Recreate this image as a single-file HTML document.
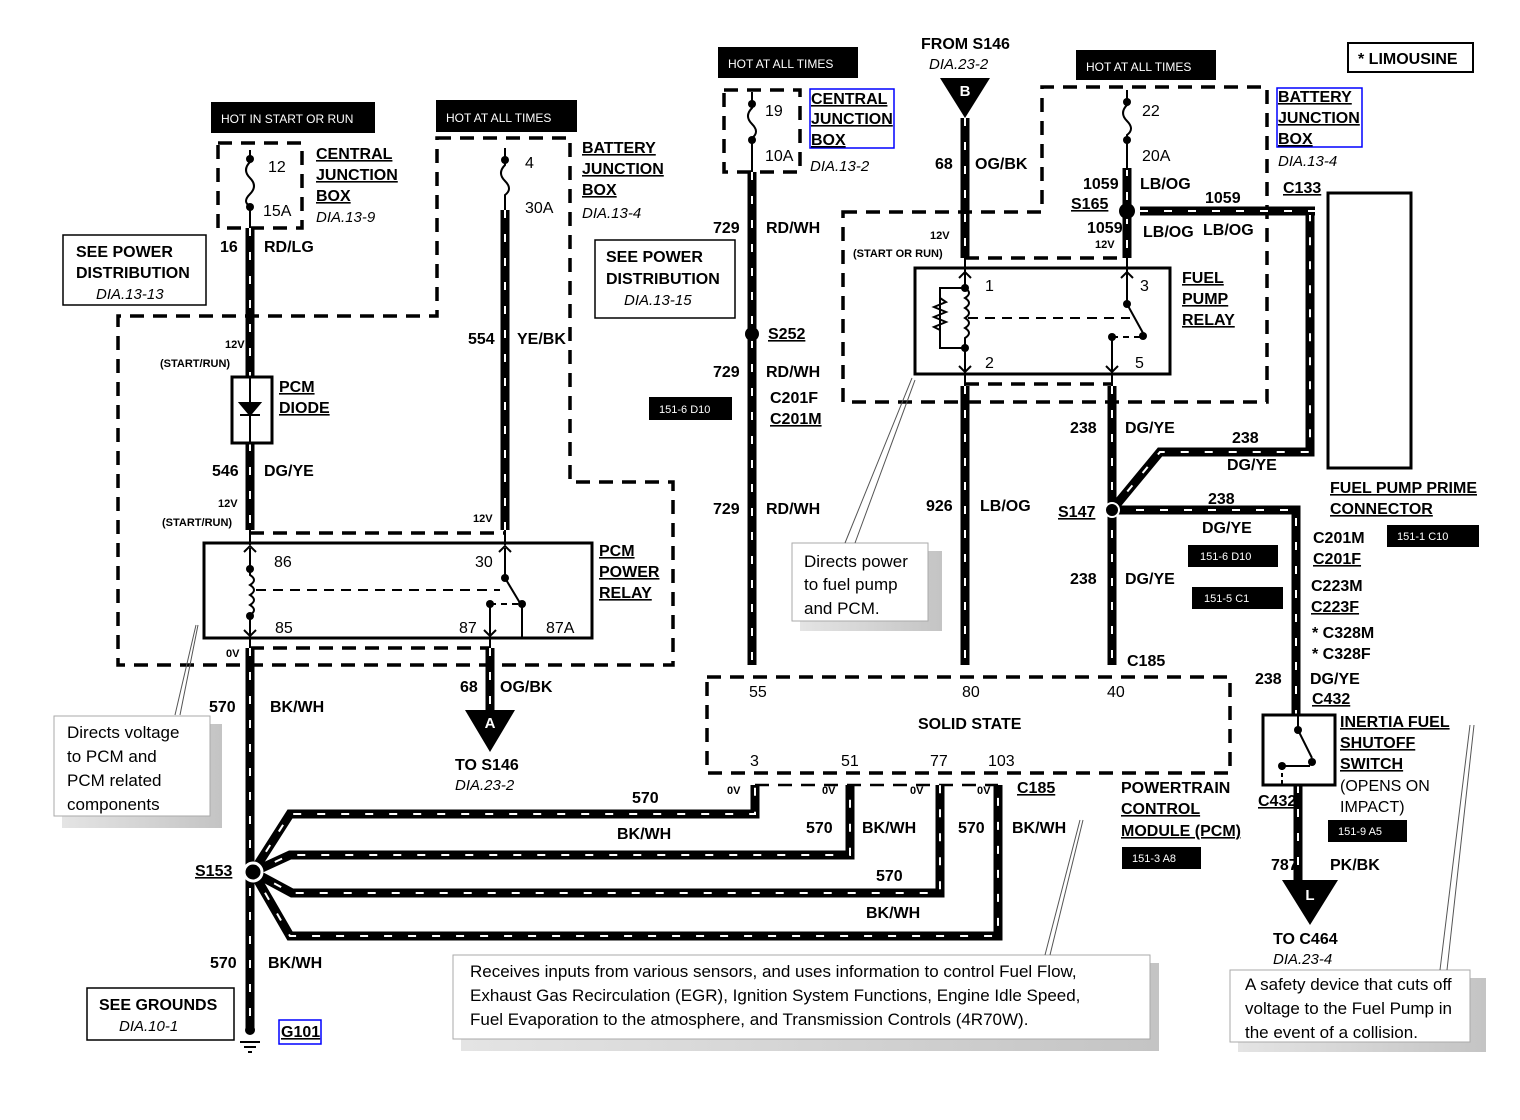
<!DOCTYPE html>
<html><head><meta charset="utf-8"><style>
html,body{margin:0;padding:0;background:#fff}
svg{display:block}
text{font-family:"Liberation Sans",Arial,sans-serif;fill:#000}
.b{font-weight:bold;font-size:16px}
.s{font-weight:bold;font-size:11px}
.i{font-style:italic;font-size:15px}
.u{text-decoration:underline}
.n{font-size:17px}
.tag{fill:#fff;font-size:11px}
.wk{fill:none;stroke:#000;stroke-width:9}
.ww{fill:none;stroke:#fff;stroke-width:2;stroke-dasharray:8 16}
.d{fill:none;stroke:#000;stroke-width:3.5;stroke-dasharray:14 9}
.t{fill:none;stroke:#000;stroke-width:2}
.box{fill:#fff;stroke:#000;stroke-width:1.5}
</style></head><body>
<svg width="1520" height="1120" viewBox="0 0 1520 1120" xmlns="http://www.w3.org/2000/svg">
<defs>
<path id="w1" d="M250 228 V377 M250 443 V530 M250 648 V1030"/>
<path id="w2" d="M505 210 V530"/>
<path id="w3" d="M490 648 V712"/>
<path id="w4" d="M752 172 V665"/>
<path id="w5" d="M965 118 V258"/>
<path id="w6" d="M965 386 V665"/>
<path id="w7" d="M1127 168 V258"/>
<path id="w8" d="M1140 211 H1315"/>
<path id="w9" d="M1112 386 V665"/>
<path id="w10" d="M1112 510 L1160 452 H1310 V215"/>
<path id="w11" d="M1112 510 H1296 V715"/>
<path id="w12" d="M1298 785 V882"/>
<path id="w13" d="M253 872 L290 814 H755 V785"/>
<path id="w14" d="M253 872 L290 855 H850 V785"/>
<path id="w15" d="M253 872 L292 893 H940 V785"/>
<path id="w16" d="M253 872 L290 936 H998 V785"/>
<linearGradient id="sh" x1="0" x2="1"><stop offset="0" stop-color="#e4e4e4"/><stop offset="1" stop-color="#c4c4c4"/></linearGradient>
</defs>

<path class="d" d="M437 138 H570 V482 H673 V665 H118 V316 H437 Z"/>
<rect class="d" x="218" y="143" width="84" height="85"/>
<rect class="d" x="724" y="90" width="76" height="82"/>
<path class="d" d="M843 212 H1042 V87 H1267 V402 H843 Z"/>
<rect class="d" x="707" y="677" width="523" height="96"/>
<path class="d" d="M250 533 H505"/>
<path class="d" d="M250 648 H490"/>
<path class="d" d="M965 258 H1127"/>
<path class="d" d="M965 384 H1112"/>
<path class="d" d="M755 785 H998" style="stroke-width:2.5"/>

<g class="wk"><use href="#w1"/><use href="#w2"/><use href="#w3"/><use href="#w4"/><use href="#w5"/><use href="#w6"/><use href="#w7"/><use href="#w8"/><use href="#w9"/><use href="#w10"/><use href="#w11"/><use href="#w12"/><use href="#w13"/><use href="#w14"/><use href="#w15"/><use href="#w16"/></g>
<g class="ww"><use href="#w1"/><use href="#w2"/><use href="#w3"/><use href="#w4"/><use href="#w5"/><use href="#w6"/><use href="#w7"/><use href="#w8"/><use href="#w9"/><use href="#w10"/><use href="#w11"/><use href="#w12"/><use href="#w13"/><use href="#w14"/><use href="#w15"/><use href="#w16"/></g>

<g class="t">
<path d="M250 150 V162 q-8 8 0 16 q8 8 0 16 q-8 8 0 12 V228"/>
<path d="M505 148 V165 q-8 8 0 16 q8 8 0 14 V210"/>
<path d="M752 92 V108 q-8 8 0 16 q8 8 0 14 V172"/>
<path d="M1127 90 V105 q-8 8 0 16 q8 8 0 14 V170"/>
<path d="M965 258 V270 M1127 258 V270 M965 374 V386 M1112 374 V386 M250 530 V545 M505 530 V545 M250 636 V648 M490 636 V648"/>
</g>
<g fill="#000"><circle cx="250" cy="159" r="4"/><circle cx="250" cy="207" r="4"/><circle cx="505" cy="160" r="4"/><circle cx="752" cy="104" r="4"/><circle cx="752" cy="140" r="4"/><circle cx="1127" cy="102" r="4"/><circle cx="1127" cy="140" r="4"/>
<circle cx="752" cy="334" r="7"/><circle cx="1127" cy="211" r="8"/><circle cx="1112" cy="510" r="7" stroke="#fff" stroke-width="2"/><circle cx="253" cy="872" r="9" stroke="#fff" stroke-width="3"/></g>

<rect x="232" y="377" width="40" height="66" fill="#fff" stroke="#000" stroke-width="3"/>
<path d="M250 377 V443 M240 403 H260 L250 415 Z M240 415 H260" stroke="#000" stroke-width="2" fill="#000"/>

<rect x="204" y="543" width="388" height="95" fill="none" stroke="#000" stroke-width="3"/>
<g class="t"><path d="M250 548 V575 q8 5 0 10 q8 5 0 10 q8 5 0 10 q8 5 0 10 V636"/><path d="M256 590 H500" stroke-dasharray="10 7"/><path d="M505 548 V578 L520 603"/><path d="M490 604 H519" stroke-dasharray="6 5"/><path d="M490 604 V636"/><path d="M522 604 V638"/><path d="M244 552 L250 546 L256 552 M244 630 L250 636 L256 630 M499 552 L505 546 L511 552 M484 630 L490 636 L496 630"/></g>
<g fill="#000"><circle cx="250" cy="569" r="4"/><circle cx="250" cy="616" r="4"/><circle cx="505" cy="578" r="4"/><circle cx="522" cy="604" r="4"/><circle cx="490" cy="604" r="4"/></g>

<rect x="915" y="268" width="255" height="106" fill="none" stroke="#000" stroke-width="3"/>
<g class="t"><path d="M965 270 V288 q8 5 0 10 q8 5 0 10 q8 5 0 10 q8 5 0 10 q8 5 0 10 V372"/><path d="M965 288 H940 V348 H965"/><path d="M940 298 l6 4 l-12 5 l12 5 l-12 5 l12 5 l-12 5 l6 3"/><path d="M968 318 H1130" stroke-dasharray="10 7"/><path d="M1127 270 V304 L1143 333"/><path d="M1112 337 H1140" stroke-dasharray="6 5"/><path d="M1112 337 V372"/><path d="M959 278 L965 272 L971 278 M1121 278 L1127 272 L1133 278 M959 366 L965 372 L971 366 M1106 366 L1112 372 L1118 366"/></g>
<g fill="#000"><circle cx="965" cy="288" r="4"/><circle cx="965" cy="348" r="4"/><circle cx="1127" cy="304" r="4"/><circle cx="1143" cy="336" r="4"/><circle cx="1112" cy="337" r="4"/></g>

<rect x="1263" y="715" width="72" height="70" fill="none" stroke="#000" stroke-width="3"/>
<g class="t"><path d="M1298 715 V730 L1312 758 M1282 766 H1310" /><path d="M1282 766 V785" stroke-dasharray="4 3"/></g>
<g fill="#000"><circle cx="1298" cy="730" r="4"/><circle cx="1312" cy="762" r="4"/><circle cx="1282" cy="766" r="4"/></g>

<rect x="1328" y="193" width="83" height="275" fill="none" stroke="#000" stroke-width="3"/>

<path d="M465 710 H515 L490 752 Z M940 78 H990 L965 118 Z M1282 880 H1338 L1310 925 Z"/>
<text x="490" y="728" text-anchor="middle" style="fill:#fff;font-weight:bold;font-size:15px">A</text>
<text x="965" y="96" text-anchor="middle" style="fill:#fff;font-weight:bold;font-size:15px">B</text>
<text x="1310" y="900" text-anchor="middle" style="fill:#fff;font-weight:bold;font-size:15px">L</text>

<path d="M240 1042 H260 M244 1047 H256 M248 1052 H252" stroke="#000" stroke-width="2"/>
<circle cx="250" cy="1030" r="5"/>

<rect x="211" y="102" width="164" height="31"/><text x="221" y="123" class="tag" style="font-size:12px">HOT IN START OR RUN</text>
<rect x="436" y="100" width="141" height="32"/><text x="446" y="122" class="tag" style="font-size:12px">HOT AT ALL TIMES</text>
<rect x="718" y="47" width="140" height="31"/><text x="728" y="68" class="tag" style="font-size:12px">HOT AT ALL TIMES</text>
<rect x="1076" y="50" width="140" height="30"/><text x="1086" y="71" class="tag" style="font-size:12px">HOT AT ALL TIMES</text>
<rect x="649" y="397" width="83" height="23"/><text x="659" y="413" class="tag">151-6 D10</text>
<rect x="1188" y="545" width="90" height="22"/><text x="1200" y="560" class="tag">151-6 D10</text>
<rect x="1192" y="587" width="91" height="22"/><text x="1204" y="602" class="tag">151-5 C1</text>
<rect x="1387" y="525" width="92" height="22"/><text x="1397" y="540" class="tag">151-1 C10</text>
<rect x="1328" y="820" width="79" height="22"/><text x="1338" y="835" class="tag">151-9 A5</text>
<rect x="1122" y="847" width="79" height="22"/><text x="1132" y="862" class="tag">151-3 A8</text>

<rect class="box" x="63" y="235" width="143" height="70"/>
<text x="76" y="257" class="b">SEE POWER</text><text x="76" y="278" class="b">DISTRIBUTION</text><text x="96" y="299" class="i">DIA.13-13</text>
<rect class="box" x="595" y="240" width="140" height="78"/>
<text x="606" y="262" class="b">SEE POWER</text><text x="606" y="284" class="b">DISTRIBUTION</text><text x="624" y="305" class="i">DIA.13-15</text>
<rect class="box" x="87" y="988" width="147" height="52"/>
<text x="99" y="1010" class="b">SEE GROUNDS</text><text x="119" y="1031" class="i">DIA.10-1</text>
<rect class="box" x="1348" y="43" width="125" height="29" style="stroke-width:2"/><text x="1358" y="64" class="b">* LIMOUSINE</text>
<rect x="810" y="89" width="84" height="59" fill="none" stroke="#00f" stroke-width="1.5"/>
<rect x="1277" y="88" width="85" height="59" fill="none" stroke="#00f" stroke-width="1.5"/>
<rect x="279" y="1020" width="42" height="24" fill="none" stroke="#00f" stroke-width="1.5"/>

<g>
<rect x="62" y="724" width="160" height="104" fill="url(#sh)"/>
<rect x="54" y="716" width="156" height="100" fill="#fff" stroke="#aaa"/>
<path d="M175 715 L196 625 M180 715 L198 625" stroke="#555" stroke-width="1"/>
<text x="67" y="738" class="n">Directs voltage</text><text x="67" y="762" class="n">to PCM and</text><text x="67" y="786" class="n">PCM related</text><text x="67" y="810" class="n">components</text>
<rect x="800" y="551" width="142" height="80" fill="url(#sh)"/>
<rect x="792" y="543" width="136" height="78" fill="#fff" stroke="#aaa"/>
<path d="M845 543 L912 378 M855 543 L915 380" stroke="#555" stroke-width="1"/>
<text x="804" y="567" class="n">Directs power</text><text x="804" y="590" class="n">to fuel pump</text><text x="804" y="614" class="n">and PCM.</text>
<rect x="461" y="963" width="698" height="88" fill="url(#sh)"/>
<rect x="453" y="955" width="697" height="84" fill="#fff" stroke="#aaa"/>
<path d="M1045 955 L1080 820 M1050 955 L1083 820" stroke="#555" stroke-width="1"/>
<text x="470" y="977" class="n">Receives inputs from various sensors, and uses information to control Fuel Flow,</text>
<text x="470" y="1001" class="n">Exhaust Gas Recirculation (EGR), Ignition System Functions, Engine Idle Speed,</text>
<text x="470" y="1025" class="n">Fuel Evaporation to the atmosphere, and Transmission Controls (4R70W).</text>
<rect x="1238" y="978" width="248" height="74" fill="url(#sh)"/>
<rect x="1230" y="970" width="240" height="72" fill="#fff" stroke="#aaa"/>
<path d="M1440 970 L1470 725 M1447 970 L1474 725" stroke="#555" stroke-width="1"/>
<text x="1245" y="990" class="n">A safety device that cuts off</text><text x="1245" y="1014" class="n">voltage to the Fuel Pump in</text><text x="1245" y="1038" class="n">the event of a collision.</text>
</g>

<g class="b">
<text x="268" y="172" style="font-weight:normal">12</text><text x="263" y="216" style="font-weight:normal">15A</text>
<text x="316" y="159" class="u">CENTRAL</text><text x="316" y="180" class="u">JUNCTION</text><text x="316" y="201" class="u">BOX</text>
<text x="525" y="168" style="font-weight:normal">4</text><text x="525" y="213" style="font-weight:normal">30A</text>
<text x="582" y="153" class="u">BATTERY</text><text x="582" y="174" class="u">JUNCTION</text><text x="582" y="195" class="u">BOX</text>
<text x="220" y="252">16</text><text x="264" y="252">RD/LG</text>
<text x="468" y="344">554</text><text x="517" y="344">YE/BK</text>
<text x="279" y="392" class="u">PCM</text><text x="279" y="413" class="u">DIODE</text>
<text x="212" y="476">546</text><text x="264" y="476">DG/YE</text>
<text x="599" y="556" class="u">PCM</text><text x="599" y="577" class="u">POWER</text><text x="599" y="598" class="u">RELAY</text>
<text x="274" y="567" style="font-weight:normal">86</text><text x="475" y="567" style="font-weight:normal">30</text>
<text x="275" y="633" style="font-weight:normal">85</text><text x="459" y="633" style="font-weight:normal">87</text><text x="546" y="633" style="font-weight:normal">87A</text>
<text x="209" y="712">570</text><text x="270" y="712">BK/WH</text>
<text x="460" y="692">68</text><text x="500" y="692">OG/BK</text>
<text x="455" y="770">TO S146</text>
<text x="195" y="876" class="u">S153</text>
<text x="210" y="968">570</text><text x="268" y="968">BK/WH</text>
<text x="281" y="1037" class="u">G101</text>
<text x="632" y="803">570</text><text x="617" y="839">BK/WH</text>
<text x="806" y="833">570</text><text x="862" y="833">BK/WH</text>
<text x="876" y="881">570</text><text x="866" y="918">BK/WH</text>
<text x="958" y="833">570</text><text x="1012" y="833">BK/WH</text>
<text x="765" y="116" style="font-weight:normal">19</text><text x="765" y="161" style="font-weight:normal">10A</text>
<text x="811" y="104" class="u">CENTRAL</text><text x="811" y="124" class="u">JUNCTION</text><text x="811" y="145" class="u">BOX</text>
<text x="713" y="233">729</text><text x="766" y="233">RD/WH</text>
<text x="768" y="339" class="u">S252</text>
<text x="713" y="377">729</text><text x="766" y="377">RD/WH</text>
<text x="770" y="403">C201F</text><text x="770" y="424" class="u">C201M</text>
<text x="713" y="514">729</text><text x="766" y="514">RD/WH</text>
<text x="921" y="49">FROM S146</text>
<text x="935" y="169">68</text><text x="975" y="169">OG/BK</text>
<text x="1142" y="116" style="font-weight:normal">22</text><text x="1142" y="161" style="font-weight:normal">20A</text>
<text x="1083" y="189">1059</text><text x="1140" y="189">LB/OG</text>
<text x="1071" y="209" class="u">S165</text>
<text x="1087" y="233">1059</text><text x="1143" y="237">LB/OG</text><text x="1203" y="235">LB/OG</text>
<text x="1205" y="203">1059</text><text x="1283" y="193" class="u">C133</text>
<text x="1278" y="102" class="u">BATTERY</text><text x="1278" y="123" class="u">JUNCTION</text><text x="1278" y="144" class="u">BOX</text>
<text x="985" y="291" style="font-weight:normal">1</text><text x="1140" y="291" style="font-weight:normal">3</text>
<text x="985" y="368" style="font-weight:normal">2</text><text x="1135" y="368" style="font-weight:normal">5</text>
<text x="1182" y="283" class="u">FUEL</text><text x="1182" y="304" class="u">PUMP</text><text x="1182" y="325" class="u">RELAY</text>
<text x="1070" y="433">238</text><text x="1125" y="433">DG/YE</text>
<text x="1232" y="443">238</text><text x="1227" y="470">DG/YE</text>
<text x="926" y="511">926</text><text x="980" y="511">LB/OG</text>
<text x="1058" y="517" class="u">S147</text>
<text x="1208" y="504">238</text><text x="1202" y="533">DG/YE</text>
<text x="1070" y="584">238</text><text x="1125" y="584">DG/YE</text>
<text x="1127" y="666">C185</text>
<text x="1330" y="493" class="u">FUEL PUMP PRIME</text><text x="1330" y="514" class="u">CONNECTOR</text>
<text x="1313" y="543">C201M</text><text x="1313" y="564" class="u">C201F</text>
<text x="1311" y="591">C223M</text><text x="1311" y="612" class="u">C223F</text>
<text x="1312" y="638">* C328M</text><text x="1312" y="659">* C328F</text>
<text x="1255" y="684">238</text><text x="1310" y="684">DG/YE</text><text x="1312" y="704" class="u">C432</text>
<text x="1340" y="727" class="u">INERTIA FUEL</text><text x="1340" y="748" class="u">SHUTOFF</text><text x="1340" y="769" class="u">SWITCH</text>
<text x="1340" y="791" style="font-weight:normal">(OPENS ON</text><text x="1340" y="812" style="font-weight:normal">IMPACT)</text>
<text x="1258" y="806" class="u">C432</text>
<text x="1271" y="870">787</text><text x="1330" y="870">PK/BK</text>
<text x="1273" y="944">TO C464</text>
<text x="749" y="697" style="font-weight:normal">55</text><text x="962" y="697" style="font-weight:normal">80</text><text x="1107" y="697" style="font-weight:normal">40</text>
<text x="918" y="729">SOLID STATE</text>
<text x="750" y="766" style="font-weight:normal">3</text><text x="841" y="766" style="font-weight:normal">51</text><text x="930" y="766" style="font-weight:normal">77</text><text x="988" y="766" style="font-weight:normal">103</text>
<text x="1017" y="793" class="u">C185</text>
<text x="1121" y="793">POWERTRAIN</text><text x="1121" y="814" class="u">CONTROL</text><text x="1121" y="836" class="u">MODULE (PCM)</text>
</g>
<g class="i">
<text x="316" y="222">DIA.13-9</text><text x="582" y="218">DIA.13-4</text><text x="455" y="790">DIA.23-2</text>
<text x="810" y="171">DIA.13-2</text><text x="929" y="69">DIA.23-2</text><text x="1278" y="166">DIA.13-4</text><text x="1273" y="964">DIA.23-4</text>
</g>
<g class="s">
<text x="225" y="348">12V</text><text x="160" y="367">(START/RUN)</text>
<text x="218" y="507">12V</text><text x="162" y="526">(START/RUN)</text>
<text x="473" y="522">12V</text><text x="226" y="657">0V</text>
<text x="930" y="239">12V</text><text x="853" y="257">(START OR RUN)</text><text x="1095" y="248">12V</text>
<text x="727" y="794">0V</text><text x="822" y="794">0V</text><text x="910" y="794">0V</text><text x="977" y="794">0V</text>
</g>
</svg>
</body></html>
